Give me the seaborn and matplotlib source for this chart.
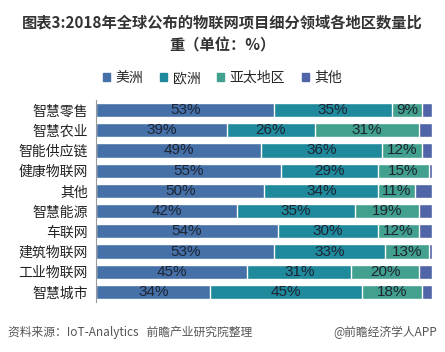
import pandas as pd
import matplotlib
matplotlib.use("Agg")
import matplotlib.pyplot as plt
import seaborn as sns
from matplotlib.patches import Patch

# data
fields = ['智慧零售', '智慧农业', '智能供应链', '健康物联网', '其他',
          '智慧能源', '车联网', '建筑物联网', '工业物联网', '智慧城市']
america = [53, 39, 49, 55, 50, 42, 54, 53, 45, 34]
europe = [35, 26, 36, 29, 34, 35, 30, 33, 31, 45]
apac = [9, 31, 12, 15, 11, 19, 12, 13, 20, 18]
other = [3, 4, 3, 1, 5, 4, 4, 1, 4, 3]

regions = ['美洲', '欧洲', '亚太地区', '其他']
colors = ['#4671a8', '#1f8a9c', '#42a08e', '#5064a8']

sns.set_theme(style='white')
plt.rcParams['font.family'] = ['Noto Sans CJK SC', 'DejaVu Sans']

df = pd.DataFrame({'field': fields, '美洲': america, '欧洲': europe,
                   '亚太地区': apac, '其他': other})
cum = df[regions].cumsum(axis=1)

fig = plt.figure(figsize=(4.45, 3.52), dpi=100)
ax = fig.add_axes([0.216, 0.142, 0.755, 0.574])

# stacked bars: draw cumulative totals from the back forward
for reg, col in reversed(list(zip(regions, colors))):
    sns.barplot(x=cum[reg], y=df['field'], order=fields, color=col,
                width=0.7, edgecolor='white', linewidth=1.0, ax=ax,
                orient='h', saturation=1)

# labels centred in the first three segments
for i, f in enumerate(fields):
    start = 0
    for reg in regions[:3]:
        v = df.loc[i, reg]
        ax.text(start + v / 2, i, f'{v}%', ha='center', va='center',
                fontsize=11, color='#1c2433', family='Liberation Sans')
        start += v

ax.set_xlim(0, 100)
ax.set_xlabel('')
ax.set_ylabel('')
ax.set_xticks([])
ax.tick_params(axis='y', length=0, labelsize=10, colors='#222222', pad=6)
for s in ['top', 'right', 'bottom']:
    ax.spines[s].set_visible(False)
ax.spines['left'].set_color('#999999')
ax.spines['left'].set_linewidth(0.8)

handles = [Patch(color=c, label=r) for r, c in zip(regions, colors)]
fig.legend(handles=handles, loc='center', bbox_to_anchor=(0.5, 0.778),
           ncol=4, frameon=False, fontsize=10, handlelength=0.5,
           handleheight=0.5, handletextpad=0.4, columnspacing=1.2)

fig.text(0.5, 0.935, '图表3:2018年全球公布的物联网项目细分领域各地区数量比',
         ha='center', va='center', fontsize=11, fontweight='bold',
         color='#333333')
fig.text(0.5, 0.87, '重（单位：%）', ha='center', va='center',
         fontsize=11, fontweight='bold', color='#333333')

fig.text(0.018, 0.055, '资料来源：IoT-Analytics   前瞻产业研究院整理',
         ha='left', va='center', fontsize=8.5, style='italic',
         color='#555555')
fig.text(0.982, 0.055, '@前瞻经济学人APP', ha='right', va='center',
         fontsize=8.5, color='#555555')

fig.savefig('out.png', dpi=100)
